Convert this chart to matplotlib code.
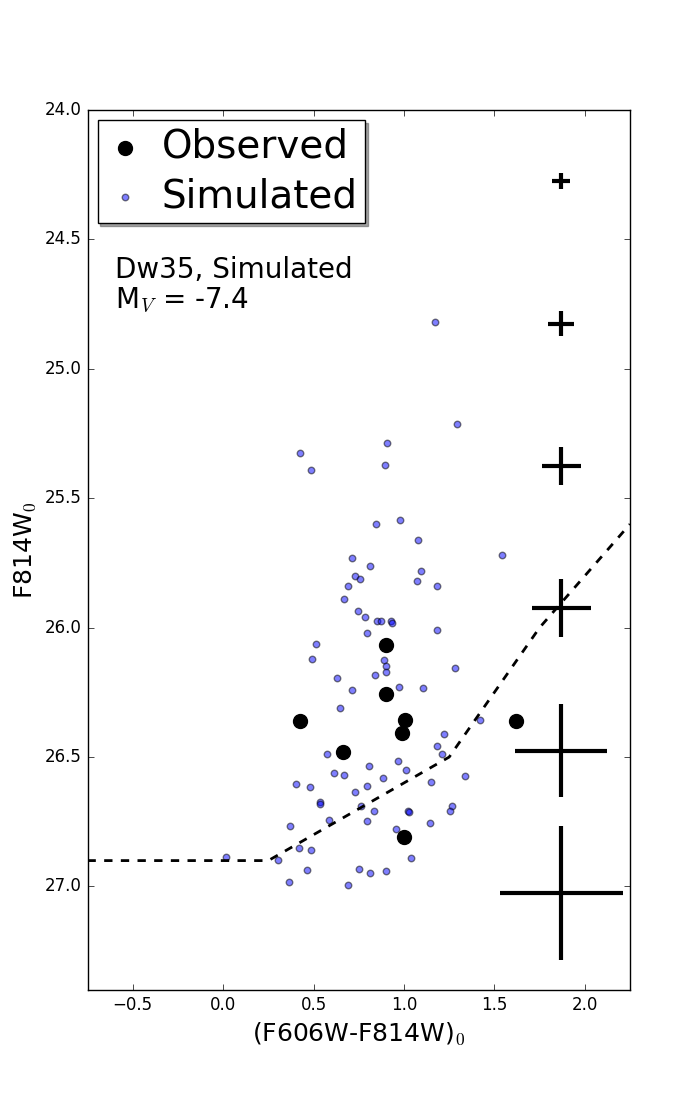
import matplotlib
matplotlib.use('Agg')
import matplotlib.pyplot as plt

plt.style.use('classic')
plt.rcParams['mathtext.fontset'] = 'cm'

# Observed stars (colour, magnitude)
obs_color = [0.903, 0.903, 0.423, 1.005, 0.990, 0.663, 1.001, 1.621]
obs_mag = [26.068, 26.255, 26.361, 26.358, 26.406, 26.479, 26.807, 26.362]

# Simulated stars (colour, magnitude)
sim_color = [1.172, 1.294, 0.907, 0.425, 0.896, 0.486, 0.846, 0.977, 1.078,
             0.713, 0.813, 1.540, 0.728, 0.757, 0.691, 1.095, 1.073, 1.183,
             0.669, 0.746, 0.785, 0.850, 0.873, 0.929, 0.936, 1.181, 0.796,
             0.514, 0.492, 0.890, 0.901, 0.901, 0.838, 1.283, 0.630, 0.711,
             0.973, 1.106, 0.646, 0.575, 0.613, 0.669, 0.807, 0.884, 0.969,
             0.403, 0.480, 0.729, 0.796, 0.536, 0.536, 0.763, 0.833, 0.586,
             0.796, 0.958, 0.368, 0.420, 0.486, 0.015, 0.303, 0.464, 0.752,
             0.813, 0.901, 0.364, 0.691, 1.420, 1.222, 1.183, 1.211, 1.012,
             1.338, 1.150, 1.024, 1.028, 1.266, 1.255, 1.143, 1.039]
sim_mag = [24.821, 25.215, 25.285, 25.327, 25.370, 25.389, 25.600, 25.586, 25.660,
           25.729, 25.760, 25.720, 25.799, 25.813, 25.841, 25.781, 25.818, 25.841,
           25.889, 25.934, 25.957, 25.973, 25.973, 25.973, 25.981, 26.008, 26.022,
           26.064, 26.120, 26.124, 26.147, 26.170, 26.182, 26.155, 26.193, 26.240,
           26.228, 26.232, 26.310, 26.487, 26.560, 26.568, 26.533, 26.580, 26.514,
           26.603, 26.614, 26.634, 26.611, 26.673, 26.683, 26.688, 26.707, 26.742,
           26.746, 26.777, 26.765, 26.850, 26.858, 26.888, 26.897, 26.935, 26.932,
           26.947, 26.939, 26.982, 26.993, 26.358, 26.410, 26.456, 26.487, 26.549,
           26.572, 26.595, 26.707, 26.712, 26.691, 26.707, 26.756, 26.889]

# Typical photometric errors per magnitude bin
err_pos = 1.87
err_mag = [24.275, 24.825, 25.375, 25.925, 26.475, 27.025]
err_col = [0.050, 0.072, 0.108, 0.162, 0.255, 0.340]
err_magerr = [0.032, 0.049, 0.073, 0.113, 0.179, 0.258]

# Completeness limit
lim_color = [-0.75, 0.25, 1.25, 1.75, 2.25]
lim_mag = [26.9, 26.9, 26.5, 26.0, 25.6]


def main():
    fig = plt.figure(figsize=(7, 11), dpi=100)
    ax = fig.add_axes([0.125, 0.1, 0.775, 0.8])

    ax.scatter(obs_color, obs_mag, s=100, c='k', edgecolor='k',
               label='Observed', zorder=3)
    ax.scatter(sim_color, sim_mag, s=22, c='b', alpha=0.5,
               edgecolor='k', label='Simulated', zorder=2)
    ax.errorbar([err_pos] * len(err_mag), err_mag, xerr=err_col,
                yerr=err_magerr, fmt='none', ecolor='k', elinewidth=3,
                capsize=0)
    ax.plot(lim_color, lim_mag, color='k', lw=2, ls='--', dashes=(6, 6))

    ax.set_xlim(-0.75, 2.25)
    ax.set_ylim(27.4, 24.0)
    ax.set_xticks([-0.5, 0.0, 0.5, 1.0, 1.5, 2.0])
    ax.set_yticks([24.0, 24.5, 25.0, 25.5, 26.0, 26.5, 27.0])
    ax.tick_params(labelsize=12)

    ax.set_xlabel('(F606W-F814W)$_0$', fontsize=18)
    ax.set_ylabel('F814W$_0$', fontsize=18)

    ax.text(0.05, 0.834, 'Dw35, Simulated\nM$_V$ = -7.4',
            transform=ax.transAxes, fontsize=20, va='top', ha='left',
            linespacing=1.1)

    ax.legend(loc='upper left', scatterpoints=1, shadow=True, fontsize=28,
              borderaxespad=0.26, handletextpad=0.44, borderpad=0.2,
              labelspacing=0.29, handlelength=1.0)

    fig.savefig('out.png', dpi=100)


if __name__ == '__main__':
    main()
